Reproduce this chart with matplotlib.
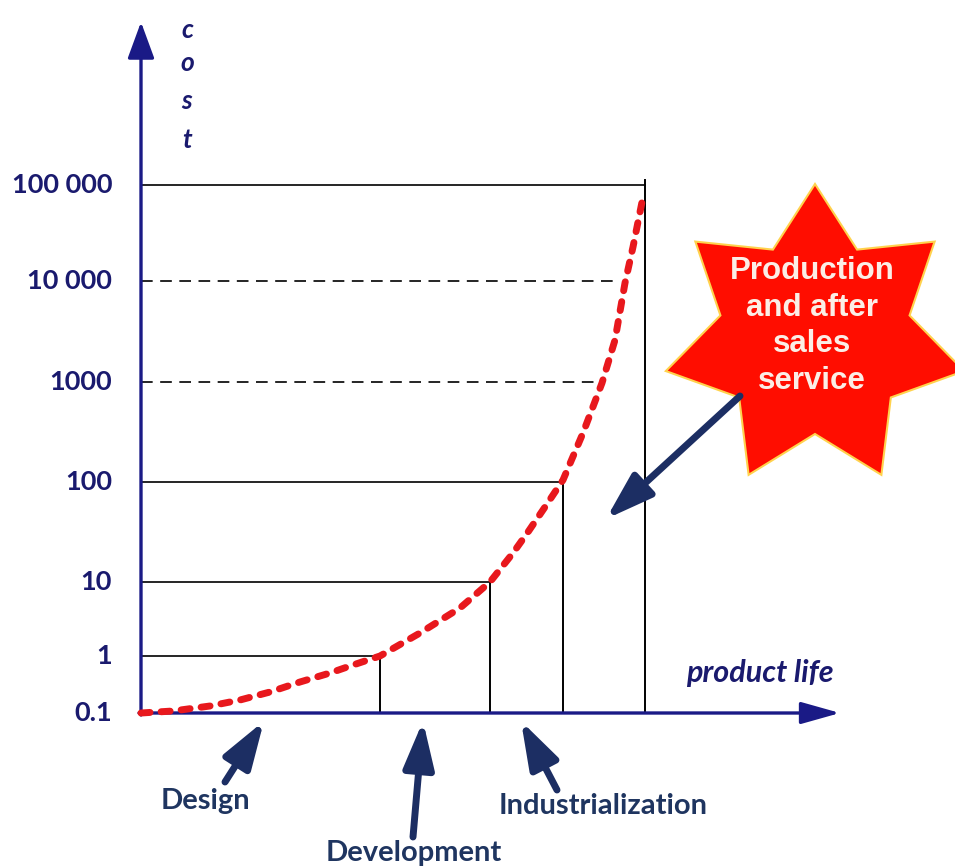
import numpy as np
import matplotlib.pyplot as plt
from matplotlib.patches import FancyArrowPatch, Polygon

# cost levels (labels) and their vertical positions on the drawing
cost_labels = ["0.1", "1", "10", "100", "1000", "10 000", "100 000"]
cost_pos = [713, 656, 582, 482, 382, 281, 185]
# where each level's guide line stops along the product-life axis
level_end_x = [141, 380, 490, 563, 600, 617, 645]
level_dashed = [False, False, False, False, True, True, False]

# stage boundaries (vertical lines): x position, top
stage_x = [380, 490, 563, 645]
stage_top = [656, 582, 482, 180]

# cost curve
curve_x = [141, 173, 210, 240, 270, 300, 330, 353, 380, 420, 460, 490, 513,
           528, 545, 563, 583, 602, 615, 625, 633, 643]
curve_y = [713, 711, 706, 700, 692, 682, 673, 665, 656, 633, 608, 582, 553,
           532, 507, 480, 433, 383, 340, 283, 247, 197]

# stage labels: text, label position, arrow tail, arrow tip
stages = ["Design", "Development", "Industrialization"]
stage_label_xy = [(205, 801), (414, 853), (603, 806)]
stage_arrow_tail = [(225, 782), (413, 837), (557, 790)]
stage_arrow_tip = [(264, 721), (423, 721), (521, 721)]

NAVY = "#1a1a86"
DARK = "#1c2e63"
LABEL = "#1a1a6e"
HEAD = "-|>,head_length=1.9,head_width=0.62"

fig = plt.figure(figsize=(9.55, 8.67), dpi=100)
ax = fig.add_axes([0, 0, 1, 1])
ax.set_xlim(0, 955)
ax.set_ylim(867, 0)
ax.axis("off")

# guide lines
for y, xe, dashed in zip(cost_pos[1:], level_end_x[1:], level_dashed[1:]):
    ax.plot([141, xe], [y, y], color="black", lw=1.2,
            ls=(0, (7, 4.5)) if dashed else "-", zorder=2)
for x, yt in zip(stage_x, stage_top):
    ax.plot([x, x], [713, yt], color="black", lw=1.4, zorder=2)

# axes with arrows
ax.add_patch(FancyArrowPatch((141, 715), (141, 22), arrowstyle="-|>,head_length=1.5,head_width=0.55",
                             mutation_scale=15, color=NAVY, lw=2.4, shrinkA=0, shrinkB=0, zorder=4))
ax.add_patch(FancyArrowPatch((139, 713), (840, 713), arrowstyle="-|>,head_length=1.6,head_width=0.45",
                             mutation_scale=15, color=NAVY, lw=2.4, shrinkA=0, shrinkB=0, zorder=4))

# tick labels
for lab, y in zip(cost_labels, cost_pos):
    ax.text(112, y, lab, ha="right", va="center", fontsize=19.5, fontweight="bold",
            family="Lato", color=LABEL)

# axis titles
for ch, y in zip("cost", [30, 63, 101, 140]):
    ax.text(187, y, ch, ha="center", va="center", fontsize=19, fontweight="bold",
            fontstyle="italic", family="Lato", color=LABEL)
ax.text(834, 673, "product life", ha="right", va="center", fontsize=22,
        fontweight="bold", fontstyle="italic", family="Lato", color=LABEL)

# cost curve
ax.plot(curve_x, curve_y, color="#e8181d", lw=5, dashes=(1.3, 1.6),
        dash_capstyle="round", solid_capstyle="round", zorder=5)

# stage arrows and labels
for name, lxy, tail, tip in zip(stages, stage_label_xy, stage_arrow_tail, stage_arrow_tip):
    ax.add_patch(FancyArrowPatch(tail, tip, arrowstyle=HEAD, mutation_scale=15,
                                 color=DARK, lw=5, shrinkA=0, shrinkB=0, zorder=6))
    ax.text(lxy[0], lxy[1], name, ha="center", va="center", fontsize=21,
            fontweight="bold", family="Lato", color="#1f3560")

# seven-pointed star callout
cx, cy, r_out, r_in = 815, 337, 153, 97
ang = np.pi / 2 + np.arange(14) * np.pi / 7
rad = np.where(np.arange(14) % 2 == 0, r_out, r_in)
star = np.column_stack([cx + rad * np.cos(ang), cy - rad * np.sin(ang)])
ax.add_patch(Polygon(star, closed=True, facecolor="#ff0d00", edgecolor="#ffd24d",
                     lw=1.5, zorder=7))
ax.text(812, 326, "Production\nand after\nsales\nservice", ha="center", va="center",
        fontsize=22.5, fontweight="bold", family="Liberation Sans", color="#fbeee6",
        linespacing=1.28, zorder=8)

# arrow from star to the production region
ax.add_patch(FancyArrowPatch((740, 396), (606, 519), arrowstyle=HEAD, mutation_scale=15,
                             color=DARK, lw=5, shrinkA=0, shrinkB=0, zorder=9))

fig.savefig("out.png", dpi=100)
